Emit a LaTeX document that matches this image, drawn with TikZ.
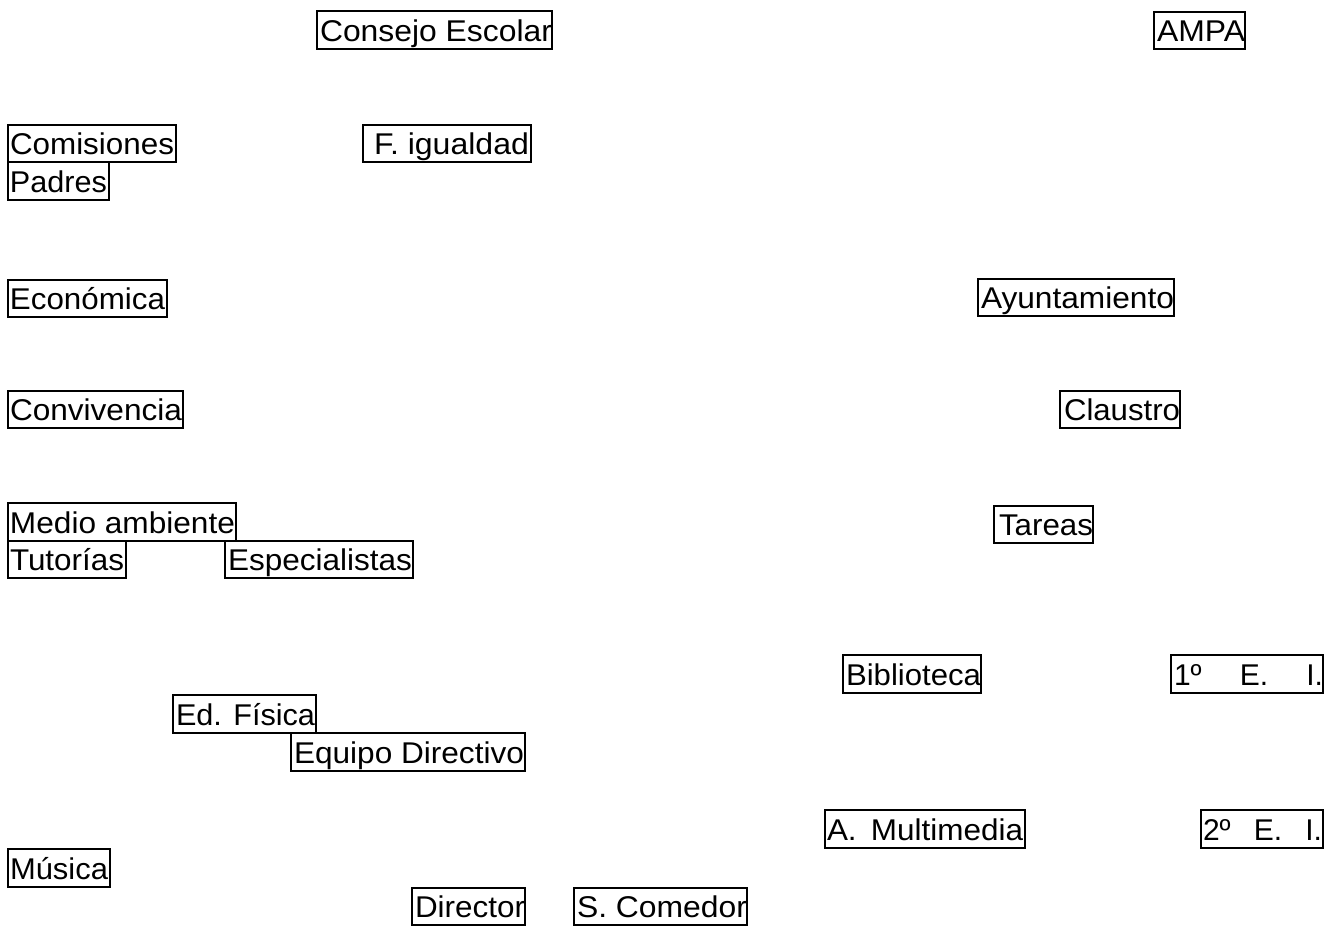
\documentclass[tikz,border=0pt]{standalone}
\usepackage{fontspec}
\setmainfont{Liberation Sans}
\usepackage{graphicx}
\newdimen\pxu
\pxu=0.75pt
\tikzset{
  box/.style={draw, line width=0.8pt, inner sep=0pt, outer sep=0pt, anchor=north west,
    text height=29.5\pxu, text depth=7.5\pxu,
    font=\fontsize{22.5pt}{26pt}\selectfont}
}
% name, x, y, w, h, offset, textwidth, content
\newcommand{\bx}[8]{%
  \node[box, minimum width=#4\pxu, minimum height=#5\pxu] (#1) at (#2,#3)
    {\makebox[#4\pxu][l]{\hspace*{#6\pxu}\resizebox{#7\pxu}{\height}{#8}}};}
\begin{document}
\begin{tikzpicture}[x=0.75pt,y=-0.75pt]
\useasboundingbox (0,0) rectangle (1338,925);
\bx{consejo}{317}{11}{235}{38}{3}{232}{Consejo Escolar}
\bx{ampa}{1154}{12}{91}{37}{3}{88}{AMPA}
\bx{comisiones}{8}{125}{168}{37}{2}{164}{Comisiones}
\bx{figualdad}{363}{125}{168}{37}{11}{155}{F. igualdad}
\bx{padres}{8}{162}{101}{38}{2}{97}{Padres}
\bx{economica}{8}{280}{159}{37}{2}{155}{Económica}
\bx{ayuntamiento}{978}{279}{196}{37}{3}{193}{Ayuntamiento}
\bx{convivencia}{8}{391}{175}{37}{2}{172}{Convivencia}
\bx{claustro}{1060}{391}{120}{37}{4}{116}{Claustro}
\bx{medio}{8}{503}{228}{38}{2}{225}{Medio ambiente}
\bx{tareas}{994}{506}{99}{37}{5}{94}{Tareas}
\bx{tutorias}{8}{541}{118}{37}{2}{114}{Tutorías}
\bx{especialistas}{225}{541}{188}{37}{3}{184}{Especialistas}
\bx{biblioteca}{843}{655}{138}{38}{3}{135}{Biblioteca}
\bx{primero}{1171}{655}{152}{38}{3}{149}{\makebox[149\pxu][s]{1º E. I.}}
\bx{edfisica}{173}{695}{143}{38}{3}{139}{Ed. Física}
\bx{equipo}{291}{733}{234}{38}{3}{230}{Equipo Directivo}
\bx{multimedia}{825}{810}{200}{38}{2}{196}{A.\hspace{0.45em}Multimedia}
\bx{segundo}{1201}{810}{122}{38}{2}{119}{\makebox[119\pxu][s]{2º E. I.}}
\bx{musica}{8}{849}{102}{38}{2}{98}{Música}
\bx{director}{412}{888}{113}{37}{3}{110}{Director}
\bx{comedor}{574}{888}{173}{37}{3}{170}{S. Comedor}
\end{tikzpicture}
\end{document}
